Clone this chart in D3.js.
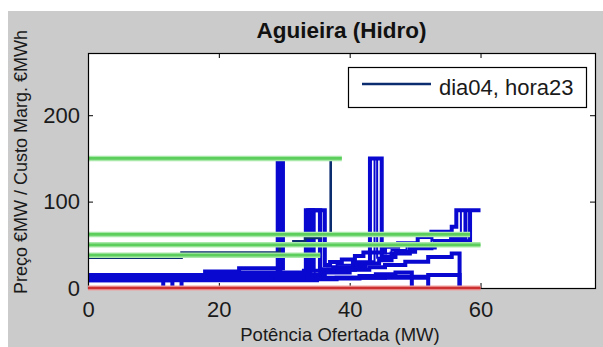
<!DOCTYPE html>
<html>
<head>
<meta charset="utf-8">
<script src="https://cdn.jsdelivr.net/npm/d3@7"></script>
<style>
  html, body { margin: 0; padding: 0; background: #ffffff; }
  svg { display: block; font-family: "Liberation Sans", Arial, sans-serif; }
</style>
</head>
<body>
<svg id="chart" width="603" height="347"></svg>
<script>
// Texts
const chartTitle = "Aguieira (Hidro)";
const xLabel = "Potência Ofertada (MW)";
const yLabel = "Preço €MW / Custo Marg. €MWh";
const legendLabel = "dia04, hora23";

// Axis limits and ticks
const xDomain = [0, 77.5];
const yDomain = [0, 272];
const xTicks = [0, 20, 40, 60];
const yTicks = [0, 100, 200];

// Offer curves (stairs): quantity where each step starts (last entry = end of curve)
// and the price of each step (last entry = final jump level)
const offerQty = [
  [0, 11.5],
  [0, 12.9],
  [0, 14.3],
  [0, 17.9, 23.1, 29.8],
  [0, 20.5, 29.0],
  [0, 25, 29.4],
  [0, 27, 33.3, 36.2, 37.0, 38.8, 40.8, 42.1, 45.4, 47.4, 50.4, 52.5, 55.6, 56.3, 60],
  [0, 22, 34.0, 35.5, 36.7, 40.8, 42.4, 44.5, 46.4, 49.2, 52.5, 55.0, 58.4],
  [0, 30, 34.65, 35.3, 38, 41, 43.8, 44.2, 44.9, 46.4, 48.7, 50.5, 52.5, 55.6, 57.0],
  [0, 31, 36.2, 40, 43, 45.4, 48.5, 52, 55.6, 56.8],
  [0, 32, 45.4, 52, 56.8],
  [0, 35, 41.5, 44, 47, 49.5],
  [0, 38, 52],
  [0, 33, 37.5, 40.5, 43.1, 44.9, 47, 50, 53, 55.5, 57.7],
  [0, 28, 33.65, 34.35]
];
const offerPrice = [
  [12, 0],
  [9, 0],
  [15, 0],
  [13, 19, 23, 150],
  [11, 17, 150],
  [15, 14, 150],
  [12, 17, 90, 26.6, 30, 33, 37, 41, 47.7, 51.7, 59, 65, 71, 90, 90],
  [13, 18, 90, 19, 21, 25, 28.5, 32, 40, 46, 50, 54, 90],
  [9, 13, 90, 23, 27, 31, 150, 35, 40, 44, 48.5, 52, 55.5, 60, 90],
  [11, 15, 18, 21, 24, 26.6, 30.4, 36, 40, 0],
  [10, 12, 13, 15, 0],
  [9, 11, 14, 16, 18, 0],
  [10, 12, 0],
  [12, 20, 24, 29, 150, 36, 42, 47, 52, 57, 90],
  [11, 16, 90, 20]
];
// Stroke width of each offer curve
const offerWidth = [4, 4, 4, 4, 4, 4, 4, 4, 2, 4, 4, 4, 4, 4, 4];

// Highlighted offer curve (dia04, hora23)
const hourQty = [0, 14.3, 29.3, 31.4, 33.2, 35.5, 37.1];
const hourPrice = [35, 41, 50, 54, 58, 63, 150];

// Marginal cost levels and the quantity each one reaches
const costLevel = [150, 62, 50, 38];
const costQty = [38.8, 58.4, 60, 35.5];

// Zero-price reference line
const zeroQty = 60;

// Layout
const W = 603, H = 347;
const plot = { left: 88, right: 595, top: 53, bottom: 288 };

const svg = d3.select("#chart");

// Figure background
svg.append("rect").attr("x", 0).attr("y", 0).attr("width", W).attr("height", H).attr("fill", "#ffffff");
svg.append("rect").attr("x", 8).attr("y", 11).attr("width", W - 8).attr("height", H - 11).attr("fill", "#cbcbcb");

// Axes area
svg.append("rect")
  .attr("x", plot.left).attr("y", plot.top)
  .attr("width", plot.right - plot.left).attr("height", plot.bottom - plot.top)
  .attr("fill", "#ffffff");

const x = d3.scaleLinear().domain(xDomain).range([plot.left, plot.right]);
const y = d3.scaleLinear().domain(yDomain).range([plot.bottom, plot.top]);

const stairs = d3.line()
  .x(d => x(d[0]))
  .y(d => y(d[1]))
  .curve(d3.curveStepAfter);

const zip = (q, p) => q.map((v, i) => [v, p[i]]);

// Offer curves
const gOffers = svg.append("g");
offerQty.forEach((q, i) => {
  gOffers.append("path")
    .attr("d", stairs(zip(q, offerPrice[i])))
    .attr("fill", "none")
    .attr("stroke", "#0808d0")
    .attr("stroke-width", offerWidth[i])
    .attr("stroke-linejoin", "miter");
});

// Highlighted curve
svg.append("path")
  .attr("d", stairs(zip(hourQty, hourPrice)))
  .attr("fill", "none")
  .attr("stroke", "#0c2c70")
  .attr("stroke-width", 2.6);

// Marginal cost lines
costLevel.forEach((c, i) => {
  const seg = d3.line()([[x(0), y(c)], [x(costQty[i]), y(c)]]);
  svg.append("path").attr("d", seg)
    .attr("stroke", "#a8e8a8").attr("stroke-width", 5.5).attr("fill", "none");
  svg.append("path").attr("d", seg)
    .attr("stroke", "#5cce5c").attr("stroke-width", 2.8).attr("fill", "none");
});

// Axes frame and ticks
const axisColor = "#000000";
const xAxisB = d3.axisBottom(x).tickValues(xTicks).tickSizeInner(-5).tickSizeOuter(0).tickPadding(13);
const xAxisT = d3.axisTop(x).tickValues(xTicks).tickSizeInner(-5).tickSizeOuter(0).tickFormat("");
const yAxisL = d3.axisLeft(y).tickValues(yTicks).tickSizeInner(-5).tickSizeOuter(0).tickPadding(8);
const yAxisR = d3.axisRight(y).tickValues(yTicks).tickSizeInner(-5).tickSizeOuter(0).tickFormat("");

function styleAxis(g) {
  g.select(".domain").remove();
  g.selectAll(".tick line").attr("stroke", axisColor);
  g.selectAll(".tick text").attr("fill", "#1a1a1a").style("font-size", "22px")
    .style("font-family", "'Liberation Sans', Arial, sans-serif");
}

svg.append("g").attr("transform", `translate(0,${plot.bottom})`).call(xAxisB).call(styleAxis);
svg.append("g").attr("transform", `translate(0,${plot.top})`).call(xAxisT).call(styleAxis);
svg.append("g").attr("transform", `translate(${plot.left},0)`).call(yAxisL).call(styleAxis);
svg.append("g").attr("transform", `translate(${plot.right},0)`).call(yAxisR).call(styleAxis);

svg.append("rect")
  .attr("x", plot.left + 0.5).attr("y", plot.top + 0.5)
  .attr("width", plot.right - plot.left).attr("height", plot.bottom - plot.top)
  .attr("fill", "none").attr("stroke", axisColor).attr("stroke-width", 1.2);

// Zero-price line
const zeroSeg = d3.line()([[x(0), y(0)], [x(zeroQty), y(0)]]);
svg.append("path").attr("d", zeroSeg)
  .attr("stroke", "#f0a0a0").attr("stroke-width", 5).attr("fill", "none");
svg.append("path").attr("d", zeroSeg)
  .attr("stroke", "#cc3030").attr("stroke-width", 2.4).attr("fill", "none");

// Legend
const leg = svg.append("g");
leg.append("rect")
  .attr("x", 348.5).attr("y", 67.5).attr("width", 238).attr("height", 40)
  .attr("fill", "#ffffff").attr("stroke", "#000000").attr("stroke-width", 1.2);
leg.append("line")
  .attr("x1", 362).attr("x2", 431).attr("y1", 84).attr("y2", 84)
  .attr("stroke", "#0c2c70").attr("stroke-width", 2.6);
leg.append("text")
  .attr("x", 439).attr("y", 95)
  .attr("fill", "#1a1a1a")
  .style("font-size", "22px")
  .text(legendLabel);

// Title and axis labels
svg.append("text")
  .attr("x", (plot.left + plot.right) / 2).attr("y", 38)
  .attr("text-anchor", "middle")
  .attr("fill", "#111111")
  .style("font-size", "22.5px").style("font-weight", "bold")
  .text(chartTitle);

svg.append("text")
  .attr("x", 340).attr("y", 341)
  .attr("text-anchor", "middle")
  .attr("fill", "#1a1a1a")
  .style("font-size", "18.5px")
  .text(xLabel);

svg.append("text")
  .attr("transform", "translate(27,162) rotate(-90)")
  .attr("text-anchor", "middle")
  .attr("fill", "#1a1a1a")
  .style("font-size", "18px")
  .text(yLabel);
</script>
</body>
</html>
